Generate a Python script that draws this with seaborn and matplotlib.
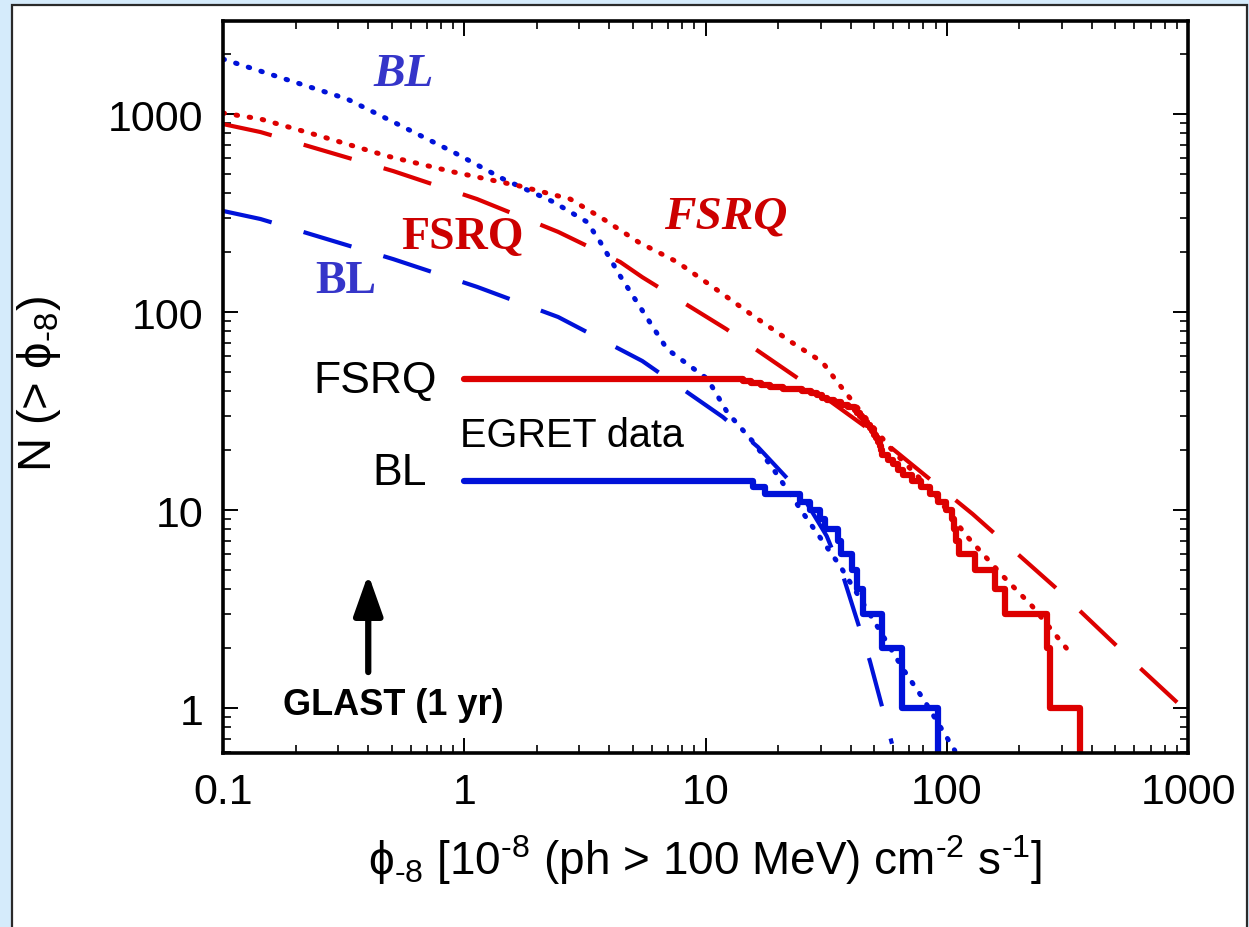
import numpy as np
import pandas as pd
import matplotlib
matplotlib.use("Agg")
import matplotlib.pyplot as plt
import seaborn as sns
from matplotlib.patches import Rectangle
from matplotlib.ticker import FixedLocator, FixedFormatter, LogLocator, NullFormatter

# ---------------- data ----------------
# model curves: dotted (BL, FSRQ) and dashed (BL, FSRQ)
bl_dot_x = [0.1, 0.327, 0.508, 0.90, 1.45, 2.34, 3.23, 3.66, 4.43, 6.93, 10.2,
            12.3, 15.8, 19.1, 26.4, 36.2, 49.5, 66.0, 80.0, 108.0]
bl_dot_y = [1895, 1191, 912, 643, 470, 360, 285, 226, 152, 65, 45.9,
            31.2, 22.0, 16.1, 9.0, 5.2, 2.8, 1.57, 1.11, 0.61]

fsrq_dot_x = [0.1, 0.143, 0.253, 0.48, 0.90, 1.71, 2.75, 3.77, 5.26, 7.63, 11.0,
              15.8, 22.7, 30.5, 35.2, 45.5, 58.9, 87.9, 121, 171, 226, 315]
fsrq_dot_y = [1012, 944, 774, 613, 510, 432, 372, 295, 226, 179, 131,
              95.5, 70.5, 55.9, 44.3, 29.8, 20.3, 12.3, 7.39, 4.64, 3.27, 1.99]

fsrq_dash_x = [0.1, 0.143, 0.508, 1.13, 2.45, 4.43, 5.47, 12.2, 26.9, 46.3, 128, 281, 620, 1000]
fsrq_dash_y = [890, 811, 515, 372, 254, 179, 150, 82, 42.3, 26.2, 9.55, 4.08, 1.63, 0.95]

bl_dash_x = [0.1, 0.143, 0.508, 1.13, 2.45, 5.47, 11.8, 16.5, 24.7, 31.8, 37.2, 48.0, 59.3]
bl_dash_y = [324, 295, 185, 134, 94.4, 56.6, 29.5, 20.8, 12.3, 7.39, 4.64, 1.73, 0.66]

# EGRET source fluxes (phi_-8) used for the cumulative counts N(>phi)
fsrq_flux = [14.3, 15.5, 17.0, 18.5, 21.0, 25.0, 27.5, 29.0, 30.5, 32.0,
             34.0, 36.5, 39.0, 41.5, 42.5, 43.5, 44.5, 45.5, 46.5, 48.0,
             49.0, 50.0, 51.0, 52.0, 53.0, 53.5, 54.0, 57.0, 60.0, 63.0,
             66.0, 72.0, 78.0, 85.0, 92.0, 99.0, 105.0, 107.0, 109.0, 112.0,
             131.0, 159.0, 175.0, 261.0, 268.0, 357.0]
bl_flux = [15.8, 17.7, 24.7, 27.1, 29.9, 31.3, 35.5, 36.5, 40.5, 42.5,
           45.1, 54.0, 65.3, 92.1]
egret_start = 1.0

x_ticks = [0.1, 1, 10, 100, 1000]
x_ticklabels = ["0.1", "1", "10", "100", "1000"]
y_ticks = [1, 10, 100, 1000]
y_ticklabels = ["1", "10", "100", "1000"]

RED = "#dd0000"
BLUE = "#0012d9"


def cumulative(fluxes, start):
    f = np.sort(np.asarray(fluxes, dtype=float))
    xs = np.concatenate([[start], f])
    ys = np.array([np.sum(f > v) for v in xs], dtype=float)
    ys[ys == 0] = 0.1  # drop below the axis
    return pd.DataFrame({"x": xs, "y": ys})


# ---------------- figure ----------------
sns.set_theme(style="white")
plt.rcParams["font.family"] = ["Liberation Sans", "DejaVu Sans"]
plt.rcParams["mathtext.fontset"] = "custom"
plt.rcParams["mathtext.rm"] = "Liberation Sans"
plt.rcParams["mathtext.it"] = "Liberation Sans:italic"
plt.rcParams["mathtext.sf"] = "Liberation Sans"
plt.rcParams["mathtext.fallback"] = "stixsans"
for k in ["text.color", "axes.labelcolor", "xtick.color", "ytick.color"]:
    plt.rcParams[k] = "black"

W, H = 1249, 928
fig = plt.figure(figsize=(W / 100, H / 100), dpi=100)
fig.patch.set_facecolor("#d5ebfb")
fig.patches.append(Rectangle((12 / W, -0.02), (1247 - 12) / W, (928 - 6) / H + 0.02,
                             transform=fig.transFigure, facecolor="white",
                             edgecolor="#2a2a2a", lw=1.6, zorder=-5))

ax_l, ax_r, ax_t, ax_b = 223, 1188, 22, 754
ax = fig.add_axes([ax_l / W, (H - ax_b) / H, (ax_r - ax_l) / W, (ax_b - ax_t) / H])
ax.set_zorder(2)
ax.set_facecolor("white")
ax.set_xscale("log")
ax.set_yscale("log")

dot_kw = dict(linewidth=3.6, dash_capstyle="round", linestyle=(0, (0.3, 2.35)))
dash_kw = dict(linewidth=3.0, dash_capstyle="butt", linestyle=(0, (12.0, 8.0)))

sns.lineplot(x=bl_dot_x, y=bl_dot_y, ax=ax, color=BLUE, estimator=None, sort=False, **dot_kw)
sns.lineplot(x=fsrq_dot_x, y=fsrq_dot_y, ax=ax, color=RED, estimator=None, sort=False, **dot_kw)
sns.lineplot(x=fsrq_dash_x, y=fsrq_dash_y, ax=ax, color=RED, estimator=None, sort=False, **dash_kw)
sns.lineplot(x=bl_dash_x, y=bl_dash_y, ax=ax, color=BLUE, estimator=None, sort=False, **dash_kw)

df_f = cumulative(fsrq_flux, egret_start)
df_b = cumulative(bl_flux, egret_start)
sns.lineplot(data=df_f, x="x", y="y", ax=ax, color=RED, estimator=None, sort=False,
             drawstyle="steps-post", linewidth=4.5)
sns.lineplot(data=df_b, x="x", y="y", ax=ax, color=BLUE, estimator=None, sort=False,
             drawstyle="steps-post", linewidth=4.5)

ax.set_xlim(0.1, 1000)
ax.set_ylim(0.593, 2950)

# ticks
ax.xaxis.set_major_locator(FixedLocator(x_ticks))
ax.xaxis.set_major_formatter(FixedFormatter(x_ticklabels))
ax.yaxis.set_major_locator(FixedLocator(y_ticks))
ax.yaxis.set_major_formatter(FixedFormatter(y_ticklabels))
ax.xaxis.set_minor_locator(LogLocator(base=10, subs=np.arange(2, 10), numticks=20))
ax.yaxis.set_minor_locator(LogLocator(base=10, subs=np.arange(2, 10), numticks=20))
ax.xaxis.set_minor_formatter(NullFormatter())
ax.yaxis.set_minor_formatter(NullFormatter())
ax.tick_params(which="both", direction="in", top=True, right=True, bottom=True, left=True,
               color="black", labelcolor="black")
ax.tick_params(which="major", length=11, width=1.4, labelsize=31, pad=14)
ax.tick_params(which="minor", length=6, width=1.2)
for s in ax.spines.values():
    s.set_color("black")
    s.set_linewidth(2.6)
    s.set_visible(True)

ax.set_xlabel(r"$\mathrm{\phi}_{\text{-8}}$ [10$^{\text{-8}}$ (ph > 100 MeV) cm$^{\text{-2}}$ s$^{\text{-1}}$]",
              fontsize=33, color="black")
ax.set_ylabel(r"N (> $\mathrm{\phi}_{\text{-8}}$)", fontsize=34, color="black")
ax.yaxis.set_label_coords(-0.166, 0.505)
ax.xaxis.set_label_coords(0.5, -0.108)

# annotations
serif = "Liberation Serif"
ax.text(0.559, 1592, "BL", color="#3535c9", fontsize=34, family=serif, weight="bold",
        style="italic", ha="center", va="center")
ax.text(12.1, 302, "FSRQ", color="#cc0000", fontsize=34, family=serif, weight="bold",
        style="italic", ha="center", va="center")
ax.text(0.98, 239, "FSRQ", color="#cc0000", fontsize=33, family=serif, weight="bold",
        ha="center", va="center")
ax.text(0.324, 143.6, "BL", color="#3535c9", fontsize=33, family=serif, weight="bold",
        ha="center", va="center")
ax.text(0.773, 39.4, "FSRQ", color="black", fontsize=32, ha="right", va="baseline")
ax.text(0.963, 21.1, "EGRET data", color="black", fontsize=28.5, ha="left", va="baseline")
ax.text(0.703, 13.5, "BL", color="black", fontsize=32, ha="right", va="baseline")
ax.text(0.178, 0.933, "GLAST (1 yr)", color="black", fontsize=26, weight="bold",
        ha="left", va="baseline")
ax.annotate("", xy=(0.40, 4.75), xytext=(0.40, 1.52),
            arrowprops=dict(arrowstyle="-|>,head_length=0.62,head_width=0.22", lw=4.5,
                            color="black", mutation_scale=40, shrinkA=0, shrinkB=0))

fig.savefig("out.png", dpi=100, facecolor=fig.get_facecolor())
